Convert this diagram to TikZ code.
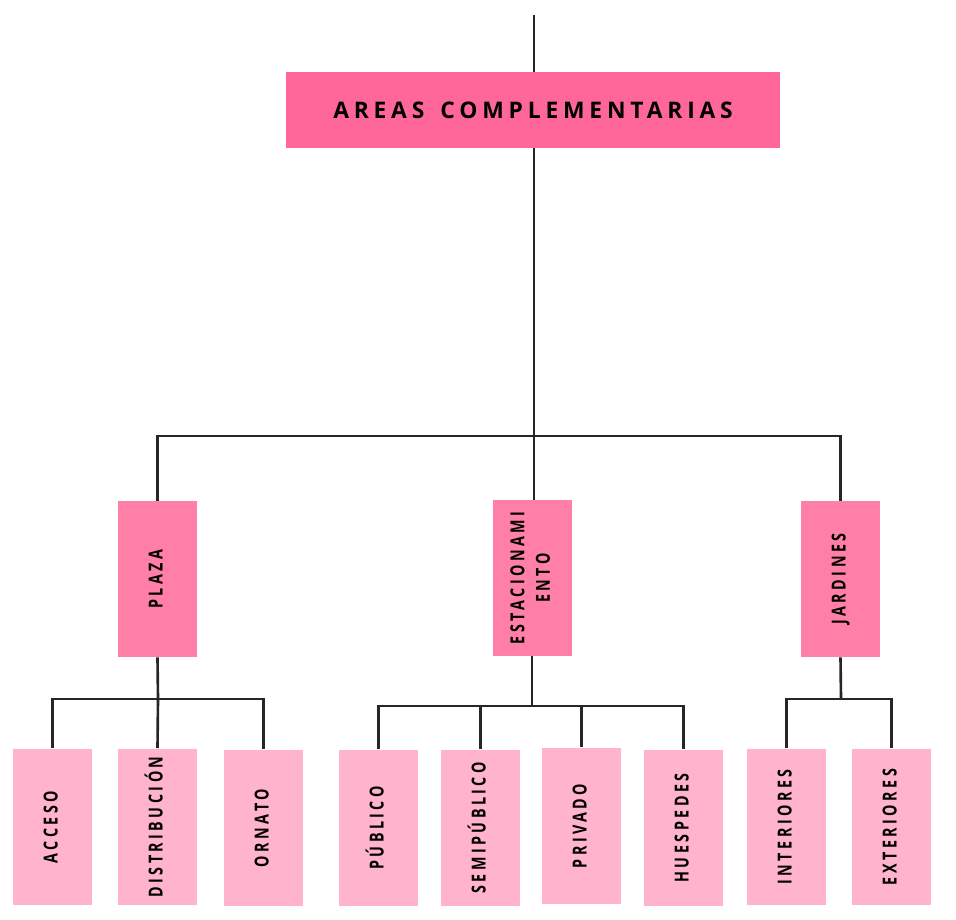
\documentclass[tikz,border=0pt]{standalone}
\usepackage{fontspec}
\usepackage{graphicx}
\usepackage{tikz}
\usetikzlibrary{positioning}
\newfontfamily\titlefont[LetterSpace=21,WordSpace=1.5]{Open Sans}
\newfontfamily\leaffont[FakeStretch=0.74,LetterSpace=18]{Open Sans}
\definecolor{pinkdark}{HTML}{FF6699}
\definecolor{pinkmid}{HTML}{FF7FA7}
\definecolor{pinklight}{HTML}{FFB3CD}
\newcommand{\vtext}[1]{\rotatebox{90}{\begin{tabular}{@{}c@{}}#1\end{tabular}}}

\begin{document}
\begin{tikzpicture}[
  x=0.02cm, y=-0.02cm,
  titlebox/.style={fill=pinkdark, minimum width=9.9cm, minimum height=1.52cm, inner sep=0pt,
    font=\titlefont\bfseries\fontsize{13}{15}\selectfont},
  midbox/.style={fill=pinkmid, minimum width=1.58cm, minimum height=3.12cm, inner sep=0pt,
    font=\leaffont\bfseries\fontsize{11}{14.5}\selectfont},
  leafbox/.style={fill=pinklight, minimum width=1.57cm, minimum height=3.14cm, inner sep=0pt,
    font=\leaffont\bfseries\fontsize{11}{14.5}\selectfont},
  link/.style={line width=1.5pt, black!85}
]
\useasboundingbox (0,0) rectangle (956,919);

% top level
\coordinate (topend) at (534,15);
\node[titlebox] (areas) at (533,110) {AREAS COMPLEMENTARIAS};

% second level
\node[midbox] (plaza) at (157.5,579) {\vtext{PLAZA}};
\node[midbox] (estac) at (532,578) {\vtext{ESTACIONAMI\\ENTO}};
\node[midbox] (jardines) at (840.5,579) {\vtext{JARDINES}};

% leaves
\node[leafbox] (acceso) at (52.5,827) {\vtext{ACCESO}};
\node[leafbox] (distrib) at (157.5,827) {\vtext{DISTRIBUCIÓN}};
\node[leafbox] (ornato) at (263.5,828) {\vtext{ORNATO}};

\node[leafbox] (publico) at (378.5,828) {\vtext{PÚBLICO}};
\node[leafbox] (semipub) at (480.5,828) {\vtext{SEMIPÚBLICO}};
\node[leafbox] (privado) at (581.5,826) {\vtext{PRIVADO}};
\node[leafbox] (huesp) at (683.5,828) {\vtext{HUESPEDES}};

\node[leafbox] (interiores) at (786.5,827) {\vtext{INTERIORES}};
\node[leafbox] (exteriores) at (891.5,827) {\vtext{EXTERIORES}};

% junctions
\coordinate (mainbus) at (534,436);
\coordinate (plazabus) at (158,699);
\coordinate (estacbus) at (532,706);
\coordinate (jardbus) at (841,699);

\draw[link] (topend) -- (topend |- areas.north);
\draw[link] (areas.south -| mainbus) -- (mainbus) -- (mainbus |- estac.north);
\draw[link] (plaza.north) |- (mainbus) -| (jardines.north);

\draw[link] (plaza.south) -- (plazabus);
\draw[link] (acceso.north) |- (plazabus) -| (ornato.north);
\draw[link] (distrib.north) -- (plazabus);

\draw[link] (estac.south) -- (estacbus);
\draw[link] (publico.north) |- (estacbus) -| (huesp.north);
\draw[link] (semipub.north) -- (semipub.north |- estacbus);
\draw[link] (privado.north) -- (privado.north |- estacbus);

\draw[link] (jardines.south) -- (jardbus);
\draw[link] (interiores.north) |- (jardbus) -| (exteriores.north);
\end{tikzpicture}
\end{document}
